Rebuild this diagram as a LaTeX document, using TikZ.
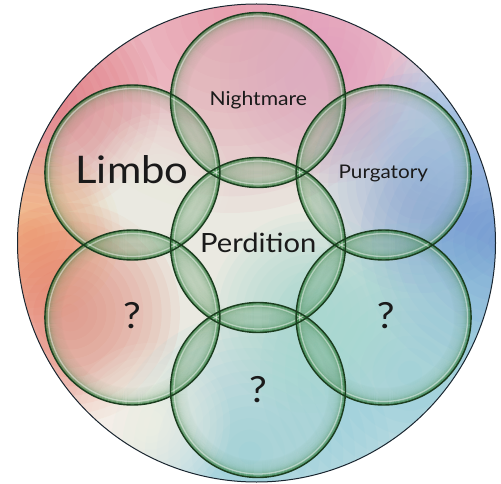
\documentclass[tikz,border=0pt]{standalone}
\usepackage{fontspec}
\setmainfont{Lato}[FakeStretch=1.1]
\definecolor{bgbase}{HTML}{F4EEE8}
\definecolor{cpink}{HTML}{E8899F}
\definecolor{cred}{HTML}{E0656F}
\definecolor{corange}{HTML}{F0A062}
\definecolor{credor}{HTML}{E6705F}
\definecolor{cmauve}{HTML}{E39ABD}
\definecolor{cpurple}{HTML}{8FA2DA}
\definecolor{cblue}{HTML}{5A8FD2}
\definecolor{clblue}{HTML}{9CBFE6}
\definecolor{ccyan}{HTML}{80C9DB}
\definecolor{ccyan2}{HTML}{96D6CF}
\definecolor{ccream}{HTML}{FBF6EC}
\definecolor{bubgreen}{HTML}{2C7A38}
\definecolor{bubline}{HTML}{1B3D1F}
\definecolor{rimline}{HTML}{1A2630}
\definecolor{txt}{HTML}{1A1A1A}
\tikzset{
  bubedge/.style={draw=bubline, line width=1.4pt},
  bubgloss/.style={draw=white, line width=1.3pt, draw opacity=0.45},
  lab/.style={text=txt, inner sep=0pt, anchor=base},
}
\begin{document}
\begin{tikzpicture}[x=1pt,y=1pt]
\useasboundingbox (0,0) rectangle (501,483);
\coordinate (O) at (256.5,240);
\begin{scope}
  \clip (O) circle (239);
  \fill[bgbase] (O) circle (239);
  \foreach \x/\y/\r/\c in {
      230/470/200/cpink, 50/380/110/cred, 330/410/110/cmauve,
      30/250/90/corange, 70/170/110/credor, 420/300/110/cpurple,
      500/240/140/cblue, 460/360/90/clblue, 410/110/150/ccyan, 250/30/140/ccyan,
      310/170/100/ccyan2, 150/60/80/ccream, 160/300/70/ccream}
    {\foreach \k in {1,...,12}
      \fill[\c, fill opacity=0.1] (\x,\y) circle ({\r*\k/12});}
\end{scope}
\draw[rimline, line width=1pt] (O) circle (239);
% bubble centres
\coordinate (perd) at (258,238);
\coordinate (night) at (258,383);
\coordinate (limbo) at (132.4,310.5);
\coordinate (purg) at (383.6,310.5);
\coordinate (bl) at (132.4,165.5);
\coordinate (br) at (383.6,165.5);
\coordinate (bot) at (258,93);
\foreach \n in {perd,night,limbo,purg,bl,br,bot}
  \fill[white, fill opacity=0.16] (\n) circle (87.5);
\foreach \n in {perd,night,limbo,purg,bl,br,bot}
  \fill[bubgreen, fill opacity=0.05] (\n) circle (87.5);
% lens overlaps
\foreach \a/\b in {perd/night, perd/limbo, perd/purg, perd/bl, perd/br, perd/bot,
    night/limbo, night/purg, limbo/bl, purg/br, bl/bot, br/bot}
  {\begin{scope}
     \clip (\a) circle (87.5);
     \fill[bubgreen, fill opacity=0.13] (\b) circle (87.5);
   \end{scope}}
\foreach \n in {perd,night,limbo,purg,bl,br,bot}
  {\foreach \d/\o in {0.6/0.75, 1.6/0.6, 2.6/0.46, 3.6/0.35, 4.6/0.27, 5.6/0.21,
      6.6/0.16, 7.6/0.13, 8.6/0.1, 9.6/0.085, 10.6/0.07, 11.6/0.06,
      12.6/0.05, 13.6/0.045, 14.6/0.04, 15.6/0.03, 16.6/0.02}
     \draw[bubgreen, line width=1.05pt, draw opacity=\o] (\n) circle ({87.5-\d});}
\foreach \n in {perd,night,limbo,purg,bl,br,bot}
  \draw[bubgloss] (\n) circle (84);
\foreach \n in {perd,night,limbo,purg,bl,br,bot}
  \draw[bubedge] (\n) circle (87.5);
% labels
\node[lab, font=\fontsize{19.2}{22}\selectfont] (tnight) at (258.3,377) {Nightmare};
\node[lab, font=\fontsize{38}{44}\selectfont] (tlimbo) at (132,300) {Limbo};
\node[lab, font=\fontsize{18.8}{22}\selectfont] (tpurg) at (383.3,304.7) {Purgatory};
\node[lab, font=\fontsize{26.5}{32}\selectfont] (tperd) at (258.3,230.3) {Perdition};
\node[lab, font=\fontsize{36}{42}\selectfont] (tq1) at (132,155) {?};
\node[lab, font=\fontsize{36}{42}\selectfont] (tq2) at (385.7,155) {?};
\node[lab, font=\fontsize{36}{42}\selectfont] (tq3) at (258,80.3) {?};
\end{tikzpicture}
\end{document}
